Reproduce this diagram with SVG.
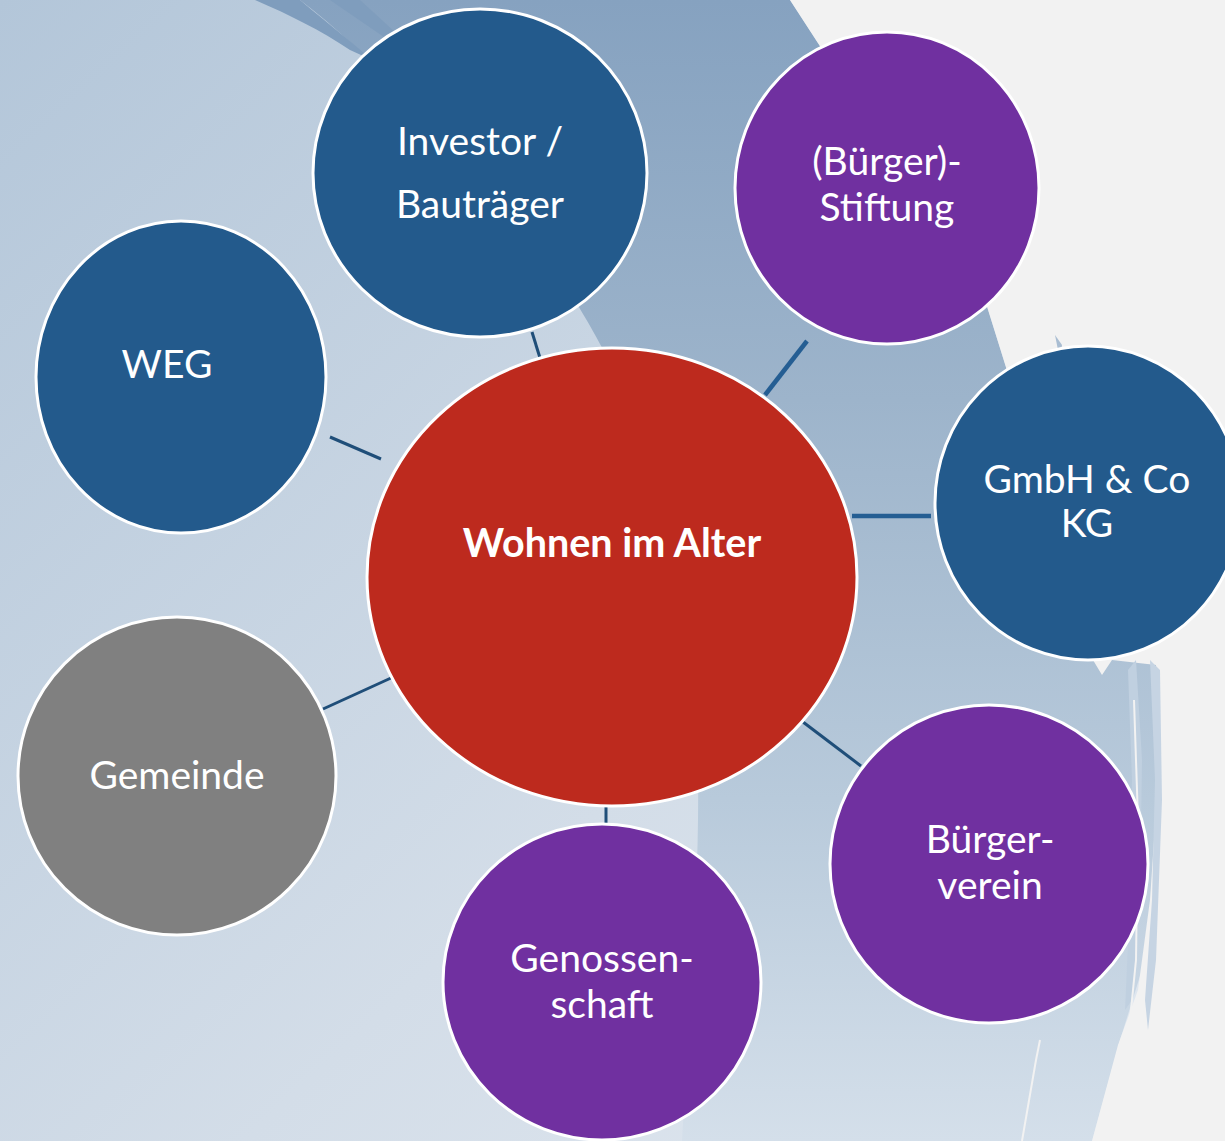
<svg xmlns="http://www.w3.org/2000/svg" width="1225" height="1141" viewBox="0 0 1225 1141">
<defs>
<linearGradient id="bg" x1="0" y1="0" x2="1" y2="1">
<stop offset="0" stop-color="#b3c6d9"/>
<stop offset="0.6" stop-color="#d3dde8"/>
<stop offset="1" stop-color="#e2e9f1"/>
</linearGradient>
<linearGradient id="band" x1="0" y1="0" x2="0" y2="1">
<stop offset="0" stop-color="#86a2c0"/>
<stop offset="0.35" stop-color="#9db4cb"/>
<stop offset="0.7" stop-color="#b8cadb"/>
<stop offset="1" stop-color="#d4dfea"/>
</linearGradient>
<style>
.n{stroke:#ffffff;stroke-width:3}
.blue{fill:#235a8c}
.purple{fill:#7030a0}
.red{fill:#bd2a1e}
.gray{fill:#808080}
.t{font-family:Lato,"Open Sans","Liberation Sans",sans-serif;font-size:39px;fill:#ffffff;text-anchor:middle}
.b{font-weight:bold;font-size:39.5px}
.c{stroke:#1f4e79;stroke-width:3;fill:none}
.c2{stroke:#255e93;stroke-width:4.5;fill:none}
</style>
</defs>
<g id="background">
<rect width="1225" height="1141" fill="url(#bg)"/>
<path d="M300,0 C380,60 460,160 540,250 C600,330 650,430 680,560 C705,700 700,850 690,1000 L682,1141 L1092,1141 L1120,1040 L1145,960 L1160,800 L1158,660 L1100,650 L1060,560 L1010,380 L985,300 L790,0 Z" fill="url(#band)"/>
<path d="M255,0 L300,0 C330,25 355,45 372,60 L350,50 C320,30 290,15 255,0 Z" fill="#7f9dbd"/>
<path d="M330,0 L360,0 L420,55 L400,48 Z" fill="#7f9dbd"/>
<path d="M790,0 L1225,0 L1225,1141 L1092,1141 L1118,1045 L1138,990 L1150,900 L1158,780 L1156,665 L1112,660 L1102,675 L1090,655 L1060,560 L1040,470 L1010,380 L985,300 Z" fill="#f2f2f2"/>
<path d="M1055,335 L1062,345 L1060,360 Z" fill="#a9bdd2"/>
<path d="M1128,670 L1136,660 L1142,760 L1140,900 L1132,1000 L1125,1010 L1130,900 L1132,780 Z" fill="#c0d0e0"/>
<path d="M1150,660 L1160,670 L1162,800 L1156,960 L1148,1030 L1145,1000 L1152,900 L1155,780 Z" fill="#c6d4e3"/>
<path d="M1134,700 L1138,820 L1136,960 L1128,1040 L1124,1060" stroke="#f2f2f2" stroke-width="2" fill="none"/>
<path d="M1040,1040 L1036,1060 L1022,1141" stroke="#f2f2f2" stroke-width="2" fill="none"/>
</g>
<g id="connectors">
<line class="c" x1="532" y1="332" x2="540" y2="358"/>
<line class="c2" x1="807" y1="341" x2="765" y2="395"/>
<line class="c" x1="330" y1="437" x2="381" y2="459"/>
<line class="c2" x1="852" y1="516" x2="931" y2="516"/>
<line class="c" x1="323" y1="709" x2="391" y2="678"/>
<line class="c" x1="803" y1="722" x2="861" y2="766"/>
<line class="c" x1="606" y1="806" x2="606" y2="824"/>
</g>
<g id="node-investor">
<ellipse class="n blue" cx="480" cy="173" rx="167" ry="164"/>
<text class="t" x="480" y="155">Investor /</text>
<text class="t" x="480" y="218">Bauträger</text>
</g>
<g id="node-stiftung">
<ellipse class="n purple" cx="887" cy="188" rx="152" ry="156"/>
<text class="t" x="887" y="175">(Bürger)-</text>
<text class="t" x="887" y="221">Stiftung</text>
</g>
<g id="node-weg">
<ellipse class="n blue" cx="181" cy="377" rx="145" ry="156"/>
<text class="t" x="167" y="378">WEG</text>
</g>
<g id="node-center">
<ellipse class="n red" cx="612" cy="577" rx="245" ry="229"/>
<text class="t b" x="612" y="557">Wohnen im Alter</text>
</g>
<g id="node-gmbh">
<ellipse class="n blue" cx="1088" cy="503" rx="153" ry="157"/>
<text class="t" x="1087" y="493">GmbH &amp; Co</text>
<text class="t" x="1087" y="537">KG</text>
</g>
<g id="node-gemeinde">
<ellipse class="n gray" cx="177" cy="776" rx="159" ry="159"/>
<text class="t" x="177" y="789">Gemeinde</text>
</g>
<g id="node-buergerverein">
<ellipse class="n purple" cx="989" cy="864" rx="159" ry="159"/>
<text class="t" x="990" y="853">Bürger-</text>
<text class="t" x="990" y="899">verein</text>
</g>
<g id="node-genossenschaft">
<ellipse class="n purple" cx="602" cy="982" rx="159" ry="158"/>
<text class="t" x="602" y="972">Genossen-</text>
<text class="t" x="602" y="1018">schaft</text>
</g>
</svg>
